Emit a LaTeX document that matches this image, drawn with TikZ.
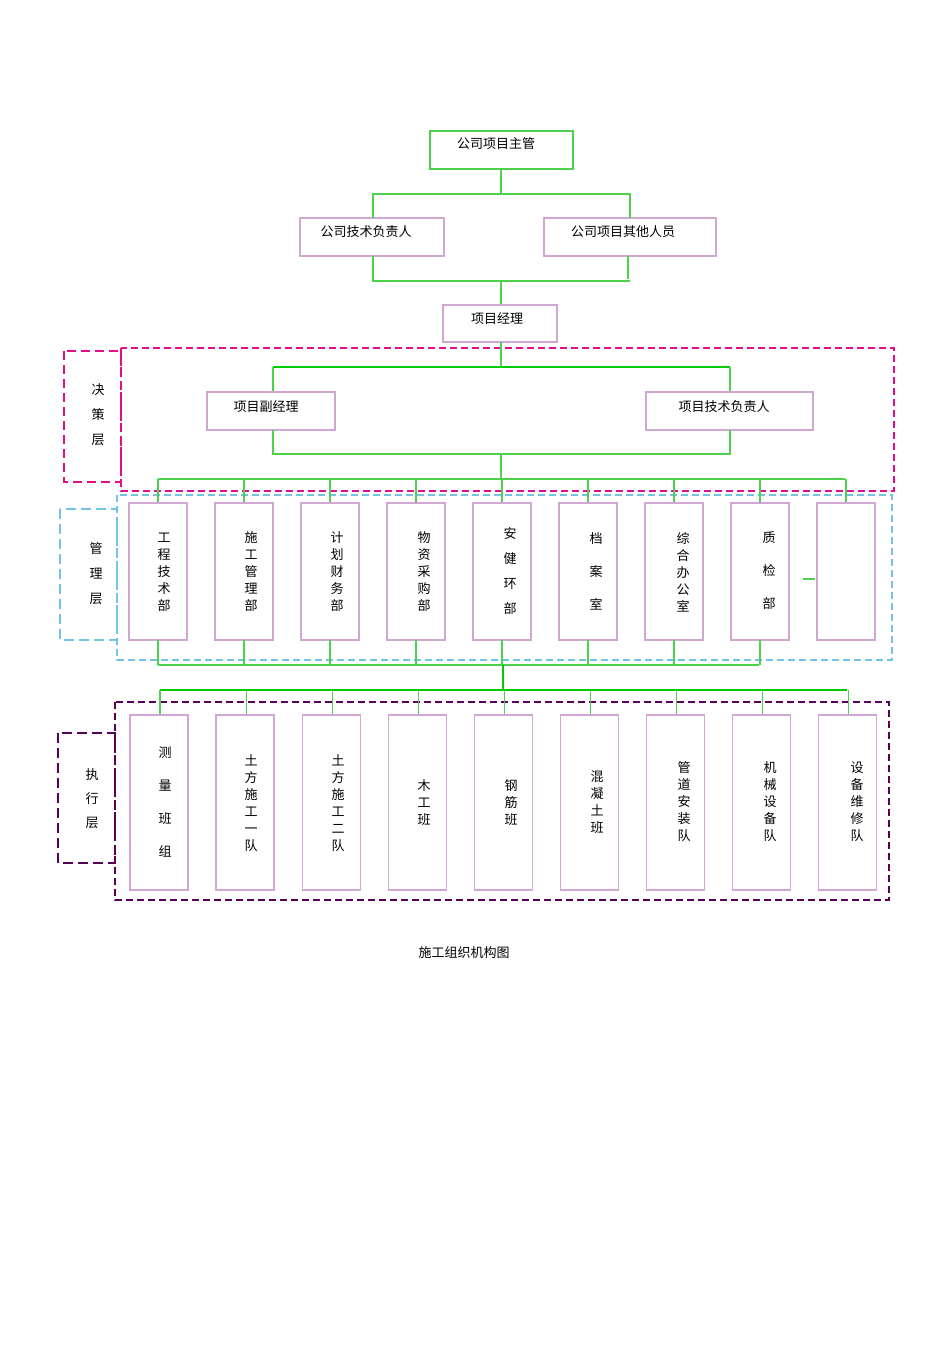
\documentclass[tikz,border=0pt]{standalone}
\usepackage{fontspec}
\newfontfamily\cjk{Noto Sans CJK SC}
\begin{document}
\begin{tikzpicture}[x=1pt,y=-1pt,
  ln/.style={draw=green!75!black!70!white, line width=1.2pt},
  lnb/.style={draw=green!80!black, line width=2pt},
  bx/.style={draw=violet!35, line width=1.3pt, fill=white},
  tx/.style={font=\cjk\fontsize{13}{13}\selectfont, inner sep=0pt},
  vt/.style={font=\cjk\fontsize{13}{#1}\selectfont, align=center, inner sep=0pt},
  vt/.default=17]
\useasboundingbox (0,0) rectangle (950,1345);
% layer frames
\draw[magenta!90!violet, dashed, line width=1.8pt, dash pattern=on 7pt off 4pt] (121,348) rectangle (894,491);
\draw[magenta!90!violet, dashed, line width=2.5pt, dash pattern=on 9pt off 5pt] (64,351) rectangle (121,482);
\draw[cyan!70!teal!60!white, line width=1.8pt, dash pattern=on 7pt off 4pt] (117,495) rectangle (892,660);
\draw[cyan!70!teal!60!white, line width=1.5pt, dash pattern=on 10pt off 5pt] (60,509) rectangle (117,640);
\draw[violet!70!black, line width=1.6pt, dash pattern=on 7pt off 4pt] (115,702) rectangle (889,900);
\draw[violet!70!black, line width=1.4pt, dash pattern=on 10pt off 5pt] (58,733) rectangle (115,863);
\node[vt=25] (L1) at (98,415) {决\\策\\层};
\node[vt=25] (L2) at (96,574) {管\\理\\层};
\node[vt=24] (L3) at (92,799) {执\\行\\层};
% top
\draw[ln] (430,131) rectangle (573,169);
\node[tx] (a) at (496,144) {公司项目主管};
\draw[bx] (300,218) rectangle (444,256);
\node[tx] (b) at (366,232) {公司技术负责人};
\draw[bx] (544,218) rectangle (716,256);
\node[tx] (c) at (623,232) {公司项目其他人员};
\draw[ln] (501,169)--(501,194) (373,218)--(373,194)--(630,194)--(630,218);
\draw[ln] (373,256)--(373,281)--(630,281) (628,256)--(628,279) (501,281)--(501,305);
\draw[bx] (443,305) rectangle (557,342);
\node[tx] (d) at (497,319) {项目经理};
\draw[ln] (501,342)--(501,367);
\draw[lnb] (273,367)--(730,367);
\draw[ln] (273,367)--(273,392) (730,367)--(730,392);
\draw[bx] (207,392) rectangle (335,430);
\node[tx] (e) at (266,407) {项目副经理};
\draw[bx] (646,392) rectangle (813,430);
\node[tx] (f) at (724,407) {项目技术负责人};
\draw[ln] (273,430)--(273,454)--(730,454)--(730,430) (501,454)--(501,479) (158,479)--(845,479);
% management
\foreach \i in {0,...,8} {
  \pgfmathsetmacro\xx{158+86*\i}
  \draw[ln] (\xx,479)--(\xx,503);
  \draw[bx] (\xx-29,503) rectangle (\xx+29,640);
}
\foreach \i in {0,...,7} {
  \pgfmathsetmacro\xx{158+86*\i}
  \draw[ln] (\xx,640)--(\xx,665);
}
\draw[ln] (158,665)--(759,665) (803,579)--(815,579);
\node[vt] (m1) at (164,572) {工\\程\\技\\术\\部};
\node[vt] (m2) at (251,572) {施\\工\\管\\理\\部};
\node[vt] (m3) at (337,572) {计\\划\\财\\务\\部};
\node[vt] (m4) at (424,572) {物\\资\\采\\购\\部};
\node[vt=25] (m5) at (510,571) {安\\健\\环\\部};
\node[vt=33] (m6) at (596,571) {档\\案\\室};
\node[vt] (m7) at (683,572) {综\\合\\办\\公\\室};
\node[vt=33] (m8) at (769,571) {质\\检\\部};
% execution
\draw[lnb] (503,665)--(503,690) (160,690)--(847,690);
\node[vt=33] (x1) at (165,802) {测\\量\\班\\组};
\node[vt] (x2) at (251,803) {土\\方\\施\\工\\一\\队};
\node[vt] (x3) at (338,803) {土\\方\\施\\工\\二\\队};
\node[vt] (x4) at (424,803) {木\\工\\班};
\node[vt] (x5) at (511,803) {钢\\筋\\班};
\node[vt] (x6) at (597,802) {混\\凝\\土\\班};
\node[vt] (x7) at (684,802) {管\\道\\安\\装\\队};
\node[vt] (x8) at (770,802) {机\\械\\设\\备\\队};
\node[vt] (x9) at (857,802) {设\\备\\维\\修\\队};
\begin{scope}[on background layer/.style={}]
\foreach \i in {0,...,8} {
  \pgfmathsetmacro\xx{160+86.1*\i}
  \draw[ln] (\xx,690)--(\xx,715);
}
\end{scope}
\foreach \i/\t in {0/x1,1/x2,2/x3,3/x4,4/x5,5/x6,6/x7,7/x8,8/x9} {
  \pgfmathsetmacro\xx{159+86.1*\i}
  \draw[bx, fill=none] (\xx-29,715) rectangle (\xx+29,890);
}
\node[tx] (cap) at (464,953) {施工组织机构图};
\end{tikzpicture}
\end{document}
